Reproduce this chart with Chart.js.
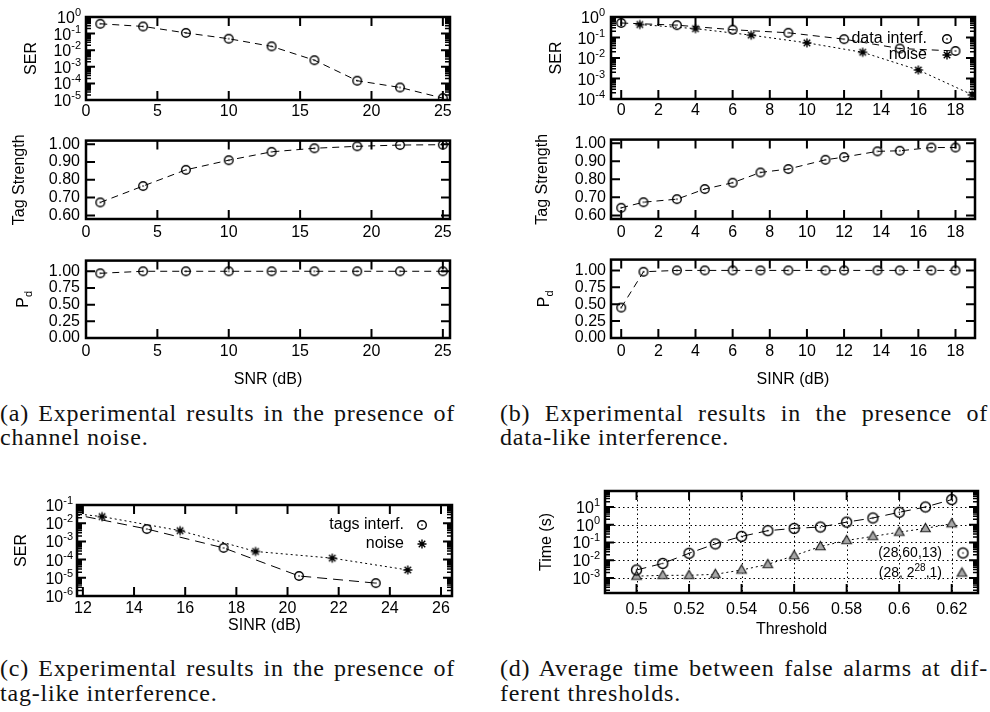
<!DOCTYPE html>
<html>
<head>
<meta charset="utf-8">
<script src="https://cdn.jsdelivr.net/npm/chart.js@4.4.1/dist/chart.umd.min.js"></script>
<style>
  html, body { margin: 0; padding: 0; background: #fff; }
  body { width: 990px; height: 712px; position: relative; overflow: hidden; }
  canvas { position: absolute; }
  .cap { position: absolute; font-family: "Liberation Serif", "Times New Roman", serif; font-size: 24px; line-height: 24px; color: #111; letter-spacing: 0.8px; }
  .cap.l1 { text-align: justify; text-align-last: justify; }
</style>
</head>
<body>
<div class="cap l1" style="left:0;top:401px;width:455px">(a) Experimental results in the presence of</div>
<div class="cap" style="left:0;top:425px">channel noise.</div>
<div class="cap l1" style="left:500px;top:401px;width:488px">(b) Experimental results in the presence of</div>
<div class="cap" style="left:500px;top:425px">data-like interference.</div>
<div class="cap l1" style="left:0;top:656px;width:455px">(c) Experimental results in the presence of</div>
<div class="cap" style="left:0;top:681px">tag-like interference.</div>
<div class="cap l1" style="left:500px;top:656px;width:488px">(d) Average time between false alarms at dif-</div>
<div class="cap" style="left:500px;top:681px">ferent thresholds.</div>

<script>
// ---- data ----
// (a) channel noise
const snrA = [1, 4, 7, 10, 13, 16, 19, 22, 25];
const serA = [0.39, 0.27, 0.11, 0.049, 0.017, 0.0025, 1.45e-4, 5.7e-5, 1.3e-5];
const tagA = [0.673, 0.765, 0.856, 0.91, 0.957, 0.977, 0.988, 0.995, 0.997];
const pdA = [0.97, 1, 1, 1, 1, 1, 1, 1, 1];

// (b) data-like interference
const sinrB = [0, 1.2, 3, 4.5, 6, 7.5, 9, 11, 12, 13.8, 15, 16.7, 18];
const tagB = [0.642, 0.673, 0.69, 0.746, 0.781, 0.838, 0.857, 0.908, 0.923, 0.955, 0.958, 0.976, 0.976];
const pdB = [0.45, 0.98, 1, 1, 1, 1, 1, 1, 1, 1, 1, 1, 1];
const sinrSerB = [0, 3, 6, 9, 12, 15, 18];
const serDataB = [0.51, 0.4, 0.24, 0.17, 0.083, 0.029, 0.022];
const snrNoiseB = [1, 4, 7, 10, 13, 16, 18.9];
const serNoiseB = [0.43, 0.27, 0.13, 0.055, 0.019, 0.0026, 1.6e-4];

// (c) tag-like interference
const sinrTagsC = [11.5, 14.5, 17.5, 20.45, 23.45];
const serTagsC = [0.034, 0.0048, 4.4e-4, 1.26e-5, 5.1e-6];
const snrNoiseC = [9.75, 12.75, 15.8, 18.75, 21.75, 24.7];
const serNoiseC = [0.066, 0.023, 0.0039, 2.8e-4, 1.2e-4, 2.7e-5];

// (d) time between false alarms
const thrD = [0.50, 0.51, 0.52, 0.53, 0.54, 0.55, 0.56, 0.57, 0.58, 0.59, 0.60, 0.61, 0.62];
const time286013 = [2.8e-3, 6.6e-3, 0.0245, 0.083, 0.22, 0.46, 0.62, 0.74, 1.4, 2.4, 5.0, 10, 26];
const time28big = [1.26e-3, 1.4e-3, 1.4e-3, 1.6e-3, 2.8e-3, 5.8e-3, 0.018, 0.059, 0.13, 0.22, 0.38, 0.62, 1.14];

// tick values
const xTicksA = [0, 5, 10, 15, 20, 25];
const xTicksB = [0, 2, 4, 6, 8, 10, 12, 14, 16, 18];
const xTicksC = [12, 14, 16, 18, 20, 22, 24, 26];
const xTicksD = [0.5, 0.52, 0.54, 0.56, 0.58, 0.6, 0.62];
const xLabelsD = ['0.5', '0.52', '0.54', '0.56', '0.58', '0.6', '0.62'];
const tagTicks = [0.6, 0.7, 0.8, 0.9, 1.0];
const pdTicks = [0, 0.25, 0.5, 0.75, 1.0];
const serTicksA = [1e-5, 1e-4, 1e-3, 1e-2, 1e-1, 1];
const serTicksB = [1e-4, 1e-3, 1e-2, 1e-1, 1];
const serTicksC = [1e-6, 1e-5, 1e-4, 1e-3, 1e-2, 1e-1];
const timeTicksD = [1e-3, 1e-2, 1e-1, 1, 10];

// ---- drawing helpers ----
const FONT = '"Liberation Sans", Arial, sans-serif';
Chart.defaults.font.family = FONT;
Chart.defaults.font.size = 16;
Chart.defaults.color = '#000';
const TICK = 9, MINOR = 5;

function marker(kind, r) {
  const s = Math.ceil(r * 2 + 5);
  const c = document.createElement('canvas');
  c.width = c.height = s;
  const g = c.getContext('2d');
  const m = s / 2;
  g.strokeStyle = '#000';
  g.lineWidth = 1.4;
  g.beginPath();
  if (kind === 'circle') {
    g.arc(m, m, r, 0, Math.PI * 2);
    g.stroke();
    g.fillStyle = '#000';
    g.fillRect(m - 0.7, m - 0.7, 1.4, 1.4);
  } else if (kind === 'star') {
    const d = r * 0.72;
    g.moveTo(m - r, m); g.lineTo(m + r, m);
    g.moveTo(m, m - r); g.lineTo(m, m + r);
    g.moveTo(m - d, m - d); g.lineTo(m + d, m + d);
    g.moveTo(m - d, m + d); g.lineTo(m + d, m - d);
    g.stroke();
  } else {
    g.moveTo(m, m - r);
    g.lineTo(m + r * 0.95, m + r * 0.65);
    g.lineTo(m - r * 0.95, m + r * 0.65);
    g.closePath();
    g.fillStyle = '#a8a8a8';
    g.fill();
    g.lineWidth = 1.2;
    g.strokeStyle = '#222';
    g.stroke();
  }
  return c;
}

const MARK = {
  circle: marker('circle', 4.3),
  star: marker('star', 4.5),
  circleD: marker('circle', 5),
  tri: marker('tri', 5)
};

function series(xs, ys, mark, dash, extra) {
  return Object.assign({
    data: xs.map((v, i) => ({ x: v, y: ys[i] })),
    borderColor: '#000',
    borderWidth: 1,
    borderDash: dash,
    pointStyle: MARK[mark],
    pointRadius: 4.5,
    pointHoverRadius: 4.5,
    tension: 0,
    fill: false
  }, extra || {});
}

function gnuPlugin(p) {
  return {
    id: 'gnu',
    beforeDatasetsDraw(chart) {
      if (!p.grid) return;
      const { ctx, chartArea: a, scales: { x, y } } = chart;
      ctx.save();
      ctx.strokeStyle = '#000';
      ctx.lineWidth = 1;
      ctx.setLineDash([1.5, 3]);
      ctx.beginPath();
      p.xTicks.forEach(v => {
        const px = Math.round(x.getPixelForValue(v)) + 0.5;
        ctx.moveTo(px, a.top); ctx.lineTo(px, a.bottom);
      });
      p.yTicks.forEach(v => {
        const py = Math.round(y.getPixelForValue(v)) + 0.5;
        ctx.moveTo(a.left, py); ctx.lineTo(a.right, py);
      });
      ctx.stroke();
      ctx.restore();
    },
    afterDatasetsDraw(chart) {
      const { ctx, chartArea: a, scales: { x, y } } = chart;
      ctx.save();
      ctx.strokeStyle = '#000';
      ctx.fillStyle = '#000';
      // major ticks, pointing inwards on all four sides
      ctx.lineWidth = 2;
      ctx.beginPath();
      p.xTicks.forEach(v => {
        const px = x.getPixelForValue(v);
        if (px < a.left + 2 || px > a.right - 2) return;
        ctx.moveTo(px, a.bottom); ctx.lineTo(px, a.bottom - TICK);
        ctx.moveTo(px, a.top); ctx.lineTo(px, a.top + TICK);
      });
      p.yTicks.forEach(v => {
        const py = y.getPixelForValue(v);
        if (py < a.top + 2 || py > a.bottom - 2) return;
        ctx.moveTo(a.left, py); ctx.lineTo(a.left + TICK, py);
        ctx.moveTo(a.right, py); ctx.lineTo(a.right - TICK, py);
      });
      ctx.stroke();
      // minor ticks on log axes
      if (p.log) {
        ctx.lineWidth = 1.5;
        ctx.beginPath();
        const e0 = Math.floor(Math.log10(y.min)), e1 = Math.ceil(Math.log10(y.max));
        for (let e = e0; e <= e1; e++) {
          for (let k = 2; k <= 9; k++) {
            const v = k * Math.pow(10, e);
            if (v <= y.min || v >= y.max) continue;
            const py = y.getPixelForValue(v);
            ctx.moveTo(a.left, py); ctx.lineTo(a.left + MINOR, py);
            ctx.moveTo(a.right, py); ctx.lineTo(a.right - MINOR, py);
          }
        }
        ctx.stroke();
      }
      // frame
      ctx.lineWidth = 2.5;
      ctx.strokeRect(a.left, a.top, a.right - a.left, a.bottom - a.top);
      // 10^n tick labels
      if (p.log) {
        ctx.textAlign = 'right';
        ctx.textBaseline = 'alphabetic';
        p.yTicks.forEach(v => {
          const e = String(Math.round(Math.log10(v)));
          const py = y.getPixelForValue(v);
          const xr = a.left - p.labPad;
          ctx.font = '11px ' + FONT;
          const we = ctx.measureText(e).width;
          ctx.fillText(e, xr, py - 1);
          ctx.font = '16px ' + FONT;
          ctx.fillText('10', xr - we, py + 6);
        });
      }
      // y title
      if (p.yTitle) {
        ctx.save();
        ctx.translate(p.yTitle.x - p.cx, (a.top + a.bottom) / 2);
        ctx.rotate(-Math.PI / 2);
        ctx.textBaseline = 'middle';
        ctx.font = '16px ' + FONT;
        const w1 = ctx.measureText(p.yTitle.text).width;
        let w2 = 0;
        if (p.yTitle.sub) { ctx.font = '11px ' + FONT; w2 = ctx.measureText(p.yTitle.sub).width; }
        const x0 = -(w1 + w2) / 2;
        ctx.textAlign = 'left';
        ctx.font = '16px ' + FONT;
        ctx.fillText(p.yTitle.text, x0, 0);
        if (p.yTitle.sub) { ctx.font = '11px ' + FONT; ctx.fillText(p.yTitle.sub, x0 + w1, 5); }
        ctx.restore();
      }
      // x title
      if (p.xTitle) {
        ctx.font = '16px ' + FONT;
        ctx.textAlign = 'center';
        ctx.textBaseline = 'middle';
        ctx.fillText(p.xTitle.text, (a.left + a.right) / 2, p.xTitle.y - p.cy);
      }
      // key
      (p.legend || []).forEach(k => {
        const size = k.size || 16;
        const tx = k.tx - p.cx, ty = k.ty - p.cy;
        ctx.textBaseline = 'middle';
        ctx.textAlign = 'left';
        ctx.font = size + 'px ' + FONT;
        if (k.sup) {
          const wa = ctx.measureText(k.text).width, wc = ctx.measureText(k.after).width;
          ctx.font = Math.round(size * 0.7) + 'px ' + FONT;
          const wb = ctx.measureText(k.sup).width;
          const xx = tx - wa - wb - wc;
          ctx.font = size + 'px ' + FONT;
          ctx.fillText(k.text, xx, ty);
          ctx.font = Math.round(size * 0.7) + 'px ' + FONT;
          ctx.fillText(k.sup, xx + wa, ty - 5);
          ctx.font = size + 'px ' + FONT;
          ctx.fillText(k.after, xx + wa + wb, ty);
        } else {
          ctx.textAlign = 'right';
          ctx.fillText(k.text, tx, ty);
        }
        const img = MARK[k.mark];
        ctx.drawImage(img, k.mx - p.cx - img.width / 2, ty - img.height / 2);
      });
      ctx.restore();
    }
  };
}

function makePlot(p) {
  const c = document.createElement('canvas');
  c.width = p.cw; c.height = p.ch;
  c.style.left = p.cx + 'px'; c.style.top = p.cy + 'px';
  c.style.width = p.cw + 'px'; c.style.height = p.ch + 'px';
  document.body.appendChild(c);
  const L = p.box[0] - p.cx, T = p.box[1] - p.cy;
  const R = p.cx + p.cw - p.box[2], B = p.cy + p.ch - p.box[3];
  new Chart(c, {
    type: 'line',
    data: { datasets: p.datasets },
    options: {
      responsive: false,
      animation: false,
      layout: { padding: { left: 0, top: T, right: R, bottom: 0 }, autoPadding: false },
      plugins: { legend: { display: false }, tooltip: { enabled: false } },
      scales: {
        x: {
          type: 'linear',
          bounds: 'data',
          min: p.xr[0], max: p.xr[1],
          grid: { display: false, drawTicks: false },
          border: { display: false },
          afterFit: s => { s.height = B; },
          afterBuildTicks: s => { s.ticks = p.xTicks.map(v => ({ value: v })); },
          ticks: {
            autoSkip: false, maxRotation: 0, padding: p.xPad,
            font: { size: 16 },
            callback: (v, i) => p.xLabels ? p.xLabels[i] : String(v)
          }
        },
        y: {
          type: p.log ? 'logarithmic' : 'linear',
          bounds: 'data',
          min: p.yr[0], max: p.yr[1],
          grid: { display: false, drawTicks: false },
          border: { display: false },
          afterFit: s => { s.width = L; },
          afterBuildTicks: s => { s.ticks = p.yTicks.map(v => ({ value: v })); },
          ticks: {
            display: !p.log,
            autoSkip: false, padding: p.labPad,
            font: { size: 16 },
            callback: v => Number(v).toFixed(2)
          }
        }
      }
    },
    plugins: [gnuPlugin(p)]
  });
}

// ---- panel (a) ----
makePlot({
  cx: 0, cy: 0, cw: 470, ch: 125, box: [86, 17, 450, 100],
  xr: [0, 25.5], yr: [1e-5, 1], log: true, labPad: 5, xPad: 2,
  xTicks: xTicksA, yTicks: serTicksA,
  yTitle: { text: 'SER', x: 32 },
  datasets: [series(snrA, serA, 'circle', [7, 5])]
});
makePlot({
  cx: 0, cy: 125, cw: 470, ch: 120, box: [86, 135, 450, 219],
  xr: [0, 25.5], yr: [0.58, 1.02], log: false, labPad: 6, xPad: 4,
  xTicks: xTicksA, yTicks: tagTicks,
  yTitle: { text: 'Tag Strength', x: 20 },
  datasets: [series(snrA, tagA, 'circle', [7, 5])]
});
makePlot({
  cx: 0, cy: 245, cw: 470, ch: 145, box: [86, 252, 450, 338],
  xr: [0, 25.5], yr: [0, 1.16], log: false, labPad: 6, xPad: 4,
  xTicks: xTicksA, yTicks: pdTicks,
  yTitle: { text: 'P', sub: 'd', x: 24 },
  xTitle: { text: 'SNR (dB)', y: 380 },
  datasets: [series(snrA, pdA, 'circle', [7, 5])]
});

// ---- panel (b) ----
makePlot({
  cx: 495, cy: 0, cw: 495, ch: 125, box: [611, 17, 975, 99],
  xr: [-0.55, 19.05], yr: [1e-4, 1], log: true, labPad: 6, xPad: 2,
  xTicks: xTicksB, yTicks: serTicksB,
  yTitle: { text: 'SER', x: 557 },
  legend: [
    { text: 'data interf.', mark: 'circle', tx: 927, ty: 39, mx: 947 },
    { text: 'noise', mark: 'star', tx: 927, ty: 55, mx: 947 }
  ],
  datasets: [
    series(sinrSerB, serDataB, 'circle', [7, 5]),
    series(snrNoiseB, serNoiseB, 'star', [2, 3])
  ]
});
makePlot({
  cx: 495, cy: 125, cw: 495, ch: 120, box: [611, 135, 975, 219],
  xr: [-0.55, 19.05], yr: [0.58, 1.02], log: false, labPad: 5, xPad: 4,
  xTicks: xTicksB, yTicks: tagTicks,
  yTitle: { text: 'Tag Strength', x: 543 },
  datasets: [series(sinrB, tagB, 'circle', [7, 5])]
});
makePlot({
  cx: 495, cy: 245, cw: 495, ch: 145, box: [611, 252, 975, 338],
  xr: [-0.55, 19.05], yr: [0, 1.16], log: false, labPad: 5, xPad: 4,
  xTicks: xTicksB, yTicks: pdTicks,
  yTitle: { text: 'P', sub: 'd', x: 545 },
  xTitle: { text: 'SINR (dB)', y: 380 },
  datasets: [series(sinrB, pdB, 'circle', [7, 5])]
});

// ---- panel (c) ----
makePlot({
  cx: 0, cy: 480, cw: 470, ch: 160, box: [77, 505, 452, 596],
  xr: [11.77, 26.43], yr: [1e-6, 1e-1], log: true, labPad: 4, xPad: 3,
  xTicks: xTicksC, yTicks: serTicksC,
  yTitle: { text: 'SER', x: 22 },
  xTitle: { text: 'SINR (dB)', y: 626 },
  legend: [
    { text: 'tags interf.', mark: 'circle', tx: 404, ty: 525, mx: 422 },
    { text: 'noise', mark: 'star', tx: 404, ty: 544, mx: 422 }
  ],
  datasets: [
    series(sinrTagsC, serTagsC, 'circle', [10, 6], { clip: 0 }),
    series(snrNoiseC, serNoiseC, 'star', [2, 3], { clip: 0 })
  ]
});

// ---- panel (d) ----
makePlot({
  cx: 495, cy: 475, cw: 495, ch: 165, box: [605, 491, 978, 593],
  xr: [0.488, 0.63], yr: [Math.pow(10, -3.85), Math.pow(10, 1.9)], log: true, labPad: 5, xPad: 7,
  xTicks: xTicksD, xLabels: xLabelsD, yTicks: timeTicksD, grid: true,
  yTitle: { text: 'Time (s)', x: 547 },
  xTitle: { text: 'Threshold', y: 630 },
  legend: [
    { text: '(28,60,13)', mark: 'circleD', tx: 942, ty: 553, mx: 963, size: 14 },
    { text: '(28, 2', sup: '28', after: ',1)', mark: 'tri', tx: 942, ty: 573, mx: 962, size: 14 }
  ],
  datasets: [
    series(thrD, time286013, 'circleD', [10, 6]),
    series(thrD, time28big, 'tri', [2, 3])
  ]
});
</script>
</body>
</html>
